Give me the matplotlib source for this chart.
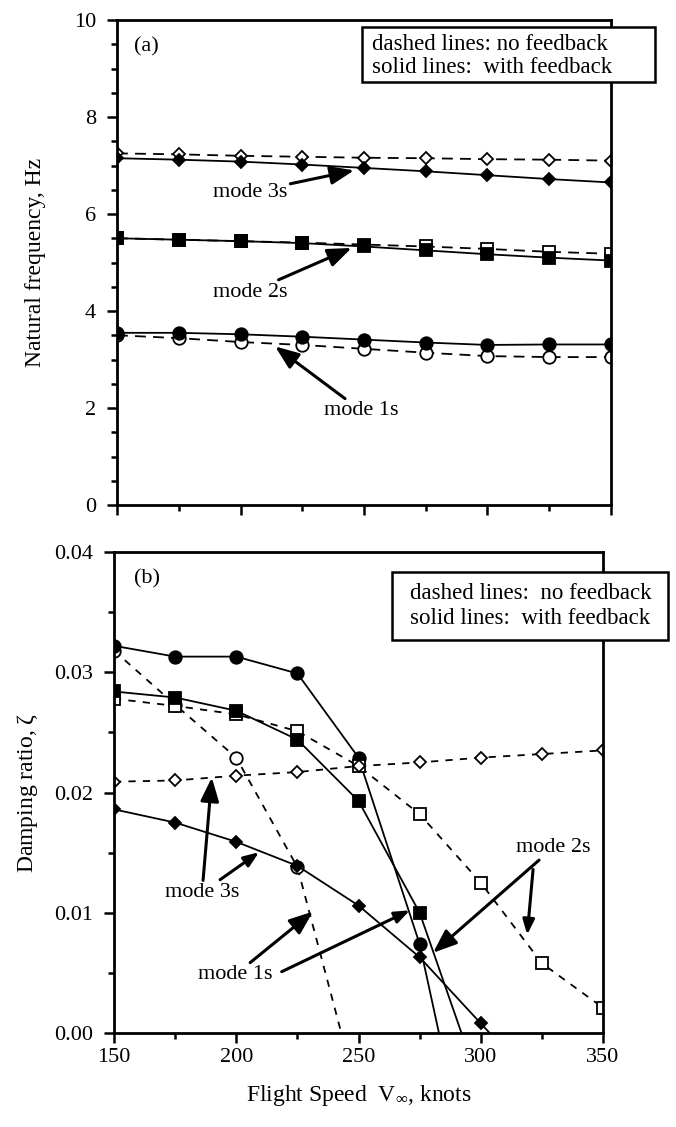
import matplotlib.pyplot as plt
from matplotlib.ticker import MultipleLocator
from matplotlib.patches import Rectangle

plt.rcParams['font.family'] = ['Liberation Serif', 'DejaVu Serif']
plt.rcParams['mathtext.fontset'] = 'custom'
plt.rcParams['mathtext.rm'] = 'Liberation Serif'
plt.rcParams['mathtext.it'] = 'Liberation Serif'

W, H = 676, 1127

# flight speeds, knots
speed = [150, 175, 200, 225, 250, 275, 300, 325, 350]

# (a) natural frequency, Hz
f1_fb = [3.55, 3.55, 3.52, 3.47, 3.41, 3.35, 3.30, 3.31, 3.31]
f1_nofb = [3.50, 3.44, 3.36, 3.30, 3.22, 3.14, 3.07, 3.05, 3.05]
f2_fb = [5.50, 5.47, 5.44, 5.40, 5.33, 5.25, 5.17, 5.10, 5.04]
f2_nofb = [5.50, 5.47, 5.44, 5.41, 5.37, 5.33, 5.28, 5.22, 5.18]
f3_fb = [7.15, 7.12, 7.08, 7.02, 6.95, 6.88, 6.80, 6.72, 6.65]
f3_nofb = [7.25, 7.23, 7.20, 7.18, 7.16, 7.15, 7.13, 7.12, 7.10]

# (b) damping ratio (last points of falling curves lie below zero, clipped)
z1_fb = [0.0322, 0.0313, 0.0313, 0.0299, 0.0229, 0.0074, -0.0160]
z1_nofb = [0.0318, 0.0273, 0.0229, 0.0138, -0.0054]
z2_fb = [0.0284, 0.0279, 0.0268, 0.0244, 0.0193, 0.0100, -0.0046]
z2_nofb = [0.0278, 0.0272, 0.0265, 0.0251, 0.0222, 0.0182, 0.0125, 0.0058, 0.0021]
z3_fb = [0.0186, 0.0175, 0.0159, 0.0139, 0.0106, 0.0063, 0.0008, -0.0047]
z3_nofb = [0.0209, 0.0210, 0.0214, 0.0217, 0.0222, 0.0225, 0.0229, 0.0232, 0.0235]

note_a = 'dashed lines: no feedback\nsolid lines:  with feedback'
note_b = 'dashed lines:  no feedback\nsolid lines:  with feedback'

fig = plt.figure(figsize=(W / 100, H / 100), dpi=100)
ax1 = fig.add_axes([117 / W, 1 - 505 / H, 494 / W, 485 / H])
ax2 = fig.add_axes([114 / W, 1 - 1033 / H, 489 / W, 481 / H])

arrow = dict(arrowstyle='-|>,head_length=0.9,head_width=0.35', lw=2.2,
             color='black', shrinkA=0, shrinkB=0)


def style_axes(ax):
    for s in ax.spines.values():
        s.set_linewidth(2)
    ax.xaxis.set_major_locator(MultipleLocator(50))
    ax.xaxis.set_minor_locator(MultipleLocator(25))
    ax.tick_params(which='both', direction='out', width=1.8, labelsize=16,
                   top=False, right=False)
    ax.tick_params(which='major', length=7)
    ax.tick_params(which='minor', length=4)
    ax.tick_params(axis='y', pad=8)
    ax.set_xlim(150, 350)


def series(ax, x, y, marker, filled, ls, ms, dash=None):
    fc = 'black' if filled else 'white'
    line, = ax.plot(x[:len(y)], y, ls=ls, color='black', lw=1.3, marker=marker,
                    ms=ms, mfc=fc, mec='black', mew=1.3)
    if dash is not None:
        line.set_dashes(dash)


def note_box(x0, y0, x1, y1, tx, ty, text, size, spacing):
    # box and text placed in figure pixels (from top-left)
    fig.patches.append(Rectangle((x0 / W, 1 - y1 / H), (x1 - x0) / W, (y1 - y0) / H,
                                 transform=fig.transFigure, fc='white',
                                 ec='black', lw=1.8, zorder=5))
    fig.text(tx / W, 1 - ty / H, text, fontsize=size, va='center', ha='left',
             linespacing=spacing, zorder=6)


# ---- (a) ----
style_axes(ax1)
series(ax1, speed, f1_nofb, 'o', False, '--', 9, (6, 4))
series(ax1, speed, f1_fb, 'o', True, '-', 9)
series(ax1, speed, f2_nofb, 's', False, '--', 8, (6, 4))
series(ax1, speed, f2_fb, 's', True, '-', 8)
series(ax1, speed, f3_nofb, 'D', False, '--', 6, (6, 4))
series(ax1, speed, f3_fb, 'D', True, '-', 6)
ax1.set_ylim(0, 10)
ax1.yaxis.set_major_locator(MultipleLocator(2))
ax1.yaxis.set_minor_locator(MultipleLocator(0.5))
ax1.set_xticklabels([])
ax1.set_ylabel('Natural frequency, Hz', fontsize=17, labelpad=20)
ax1.text(0.035, 0.965, '(a)', transform=ax1.transAxes, fontsize=16, va='top')

ax1.annotate('mode 3s', xy=(246, 6.90), xytext=(204, 6.45), fontsize=16,
             ha='center', va='center', arrowprops=arrow)
ax1.annotate('mode 2s', xy=(245, 5.30), xytext=(204, 4.39), fontsize=16,
             ha='center', va='center', arrowprops=arrow)
ax1.annotate('mode 1s', xy=(214, 3.27), xytext=(249, 1.94), fontsize=16,
             ha='center', va='center', arrowprops=arrow)

note_box(362, 27, 655, 82, 372, 56, note_a, 16.5, 1.1)

# ---- (b) ----
style_axes(ax2)
series(ax2, speed, z1_nofb, 'o', False, '--', 9, (4, 4))
series(ax2, speed, z1_fb, 'o', True, '-', 9)
series(ax2, speed, z2_nofb, 's', False, '--', 8, (4, 4))
series(ax2, speed, z2_fb, 's', True, '-', 8)
series(ax2, speed, z3_nofb, 'D', False, '--', 6, (4, 4))
series(ax2, speed, z3_fb, 'D', True, '-', 6)
ax2.set_ylim(0, 0.04)
ax2.yaxis.set_major_locator(MultipleLocator(0.01))
ax2.yaxis.set_minor_locator(MultipleLocator(0.005))
ax2.yaxis.set_major_formatter(plt.FormatStrFormatter('%.2f'))
ax2.set_xticks([150, 200, 250, 300, 350])
ax2.set_ylabel(r'Damping ratio, $\zeta$', fontsize=17, labelpad=10)
ax2.set_xlabel(r'Flight Speed  V$_{\infty}$, knots', fontsize=17, labelpad=12)
ax2.text(0.04, 0.965, '(b)', transform=ax2.transAxes, fontsize=16, va='top')

ax2.annotate('mode 3s', xy=(190, 0.02125), xytext=(186, 0.01167), fontsize=16,
             ha='center', va='center', arrowprops=arrow)
ax2.annotate('', xy=(209.3, 0.01503), xytext=(193.4, 0.01275), arrowprops=arrow)
ax2.annotate('mode 1s', xy=(231.4, 0.0101), xytext=(199.5, 0.00483), fontsize=16,
             ha='center', va='center', arrowprops=arrow)
ax2.annotate('', xy=(271, 0.0102), xytext=(218.6, 0.0051), arrowprops=arrow)
ax2.annotate('mode 2s', xy=(280.5, 0.00667), xytext=(329.6, 0.0154), fontsize=16,
             ha='center', va='center', arrowprops=arrow)
ax2.annotate('', xy=(319, 0.00817), xytext=(321.4, 0.0136), arrowprops=arrow)

note_box(392, 572, 668, 640, 410, 606, note_b, 16.5, 1.3)

fig.savefig('out.png', dpi=100)
